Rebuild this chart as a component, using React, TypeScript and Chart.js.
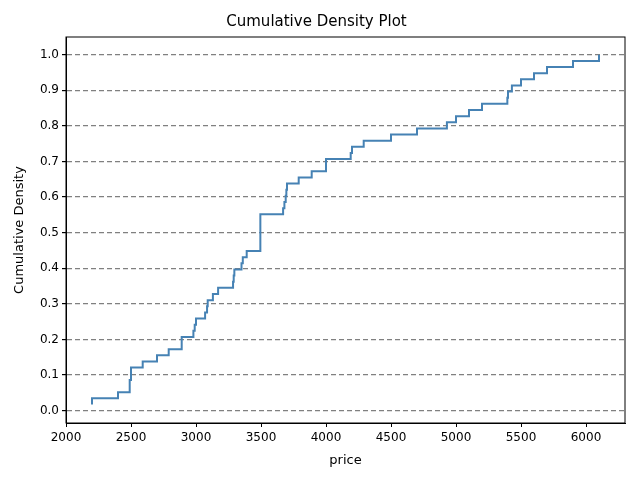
import { Chart, registerables } from "chart.js";
import { useEffect, useRef } from "react";

Chart.register(...registerables);

// sampled prices (sorted), one entry per observation
const prices = [
  2200, 2200, 2400, 2490, 2490, 2500, 2500, 2590, 2700, 2790, 2890, 2890,
  2980, 2990, 3000, 3070, 3085, 3090, 3130, 3170, 3285, 3290, 3295, 3350,
  3360, 3390, 3495, 3495, 3495, 3495, 3495, 3495, 3670, 3680, 3690, 3695,
  3700, 3790, 3890, 4000, 4000, 4190, 4200, 4290, 4500, 4700, 4930, 5000,
  5100, 5200, 5395, 5400, 5430, 5500, 5600, 5700, 5900, 6100,
];
const xTicks = [2000, 2500, 3000, 3500, 4000, 4500, 5000, 5500, 6000];
const yTicks = [0, 0.1, 0.2, 0.3, 0.4, 0.5, 0.6, 0.7, 0.8, 0.9, 1.0];

const frame = {
  id: "frame",
  afterDraw(chart: any) {
    const { ctx, chartArea: a } = chart;
    ctx.save();
    ctx.strokeStyle = "#000";
    ctx.lineWidth = 1;
    ctx.strokeRect(a.left, a.top, a.right - a.left, a.bottom - a.top);
    ctx.restore();
  },
};

const App = () => {
  const chartRef = useRef<HTMLCanvasElement | null>(null);
  useEffect(() => {
    if (!chartRef.current) return;
    document.body.style.margin = "0";
    const n = prices.length;
    const points = prices.map((p, i) => ({ x: p, y: (i + 1) / n }));
    const font = { family: "DejaVu Sans", size: 12 };
    const chart = new Chart(chartRef.current, {
      type: "scatter",
      data: {
        datasets: [
          {
            data: points,
            showLine: true,
            stepped: "before",
            borderColor: "#4682b4",
            borderWidth: 2,
            pointRadius: 0,
          },
        ],
      },
      options: {
        animation: false,
        responsive: false,
        layout: { padding: { top: 0, right: 15, bottom: 8, left: 8 } },
        plugins: {
          legend: { display: false },
          tooltip: { enabled: false },
          title: {
            display: true,
            text: "Cumulative Density Plot",
            color: "#000",
            font: { family: "DejaVu Sans", size: 15, weight: "normal" },
            padding: { top: 13, bottom: 6 },
          },
        },
        scales: {
          x: {
            type: "linear",
            min: 2000,
            max: 6300,
            afterBuildTicks: (s: any) => {
              s.ticks = xTicks.map((v) => ({ value: v }));
            },
            afterFit: (s: any) => {
              s.height = 49;
            },
            ticks: { color: "#000", font, padding: 4, callback: (v: any) => String(v) },
            grid: { drawOnChartArea: false, tickLength: 4, color: "#000" },
            border: { color: "#000" },
            title: { display: true, text: "price", color: "#000", font: { family: "DejaVu Sans", size: 13 }, padding: { top: 4 } },
          },
          y: {
            min: -0.035,
            max: 1.05,
            afterBuildTicks: (s: any) => {
              s.ticks = yTicks.map((v) => ({ value: v }));
            },
            afterFit: (s: any) => {
              s.width = 58;
            },
            ticks: { color: "#000", font, padding: 3, callback: (v: any) => Number(v).toFixed(1) },
            grid: {
              color: "#808080",
              lineWidth: 1.2,
              tickLength: 4,
              tickColor: "#000",
            },
            border: { color: "#000", dash: [5, 3] },
            title: { display: true, text: "Cumulative Density", color: "#000", font: { family: "DejaVu Sans", size: 13 }, padding: { bottom: 4 } },
          },
        },
      },
      plugins: [frame],
    });
    return () => {
      chart.destroy();
    };
  }, []);
  return <canvas ref={chartRef} width={640} height={480} />;
};

export default App;
